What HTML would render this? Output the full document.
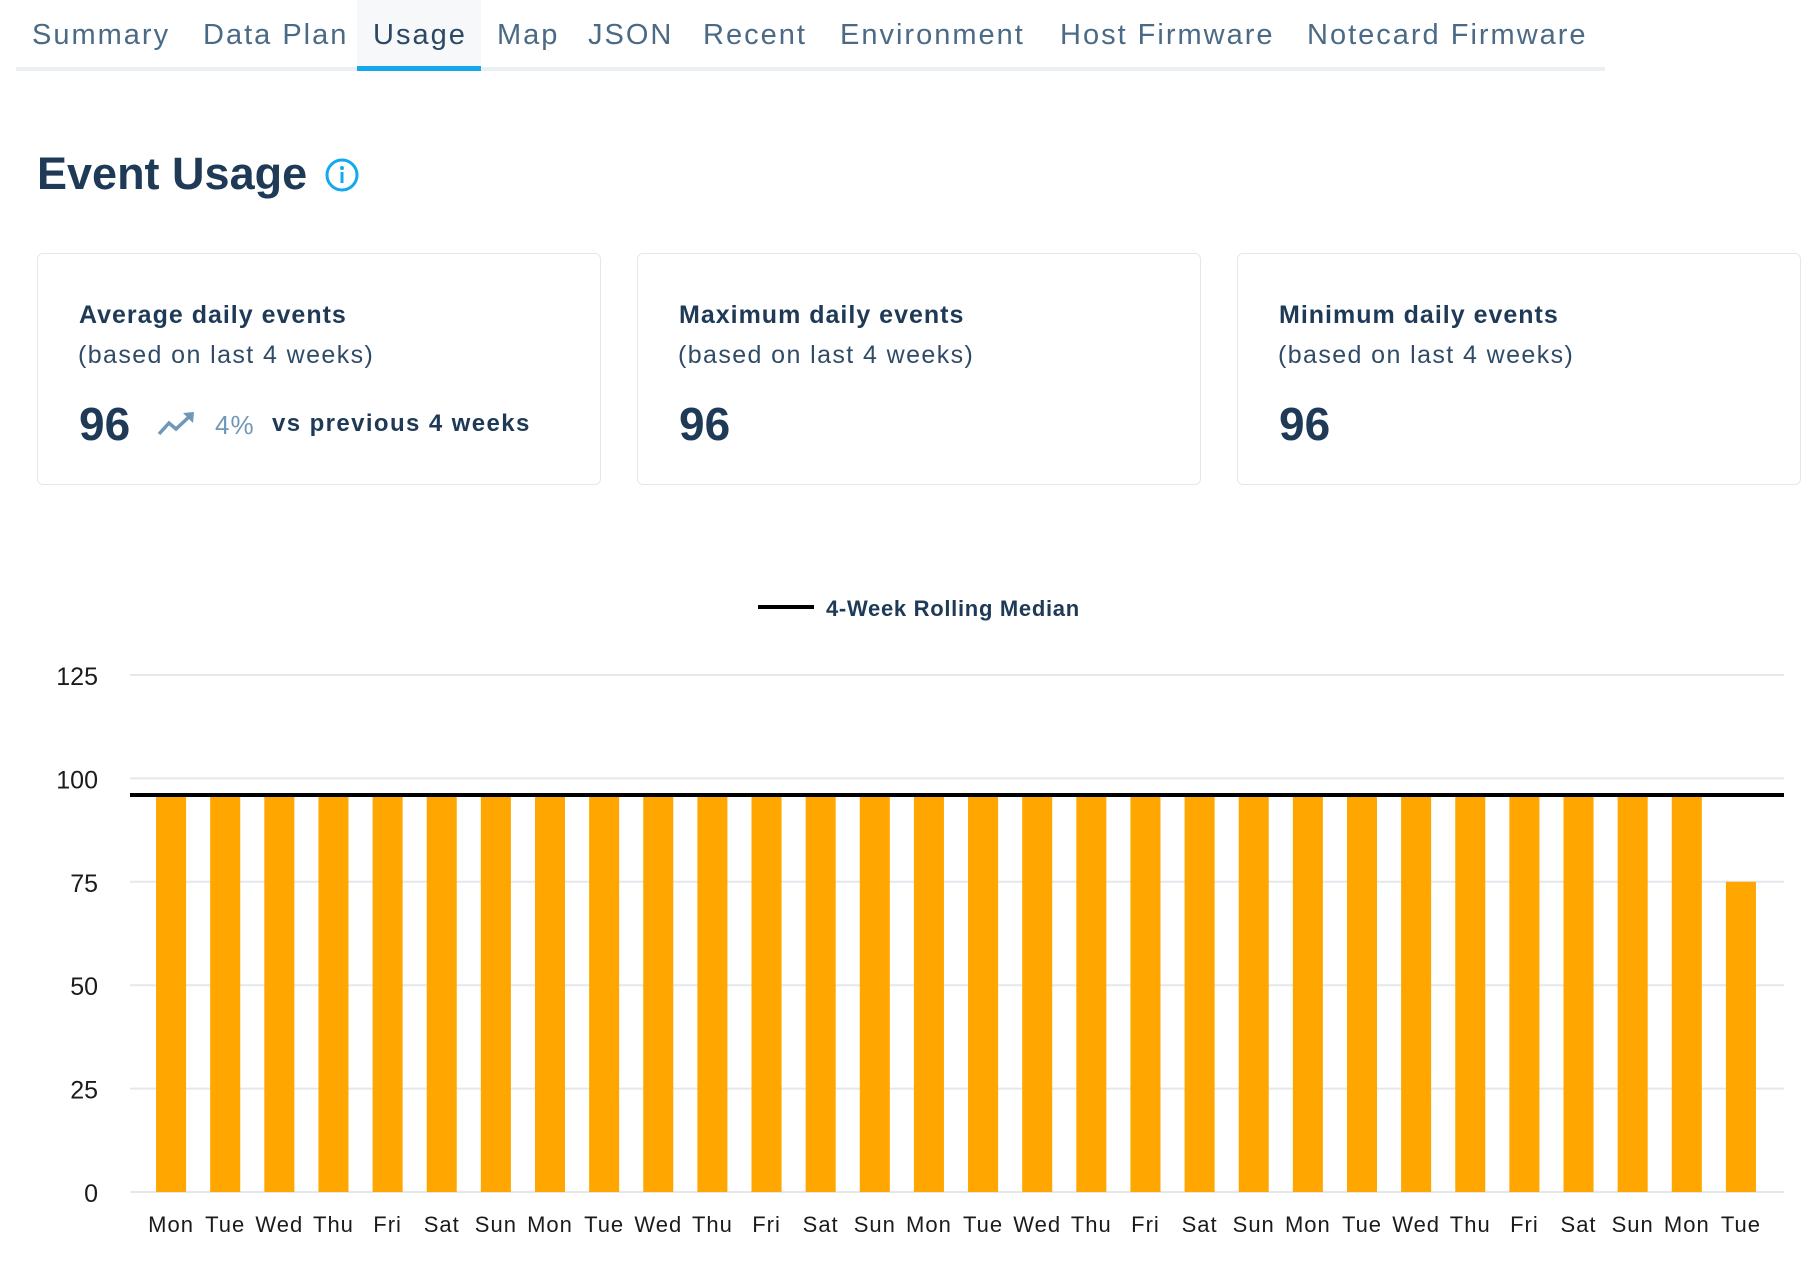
<!DOCTYPE html>
<html><head><meta charset="utf-8">
<style>
body{margin:0;width:1814px;height:1270px;background:#fff;font-family:"Liberation Sans",sans-serif;position:relative;overflow:hidden}
.tab{position:absolute;top:19px;font-size:29px;color:#4b6a85;white-space:nowrap;letter-spacing:2px}
.card{position:absolute;top:253px;width:564px;height:232px;border:1px solid #e3e8ed;border-radius:6px;box-sizing:border-box}
.ct{position:absolute;left:41px;top:47px;font-size:25px;font-weight:bold;color:#1e3a56;letter-spacing:1px;white-space:nowrap}
.cs{position:absolute;left:40px;top:87px;font-size:25px;color:#2f4b66;letter-spacing:1.4px;white-space:nowrap}
.cv{position:absolute;left:41px;top:143px;font-size:46px;font-weight:bold;color:#1e3a56}
</style></head><body>
<div style="position:absolute;left:16px;top:67px;width:1589px;height:4px;background:#eceff2"></div>
<div style="position:absolute;left:357px;top:0;width:124px;height:67px;background:#f7f8f9"></div>
<div style="position:absolute;left:357px;top:66px;width:124px;height:5px;background:#14a8ec"></div>
<div class="tab" style="left:32px">Summary</div>
<div class="tab" style="left:203px">Data Plan</div>
<div class="tab" style="left:373px;color:#2b4864">Usage</div>
<div class="tab" style="left:497px">Map</div>
<div class="tab" style="left:588px">JSON</div>
<div class="tab" style="left:703px">Recent</div>
<div class="tab" style="left:840px">Environment</div>
<div class="tab" style="left:1060px">Host Firmware</div>
<div class="tab" style="left:1307px">Notecard Firmware</div>

<div style="position:absolute;left:37px;top:148px;font-size:45px;font-weight:bold;color:#1e3a56">Event Usage</div>
<svg style="position:absolute;left:324px;top:157px" width="36" height="36"><circle cx="18" cy="18" r="15" fill="none" stroke="#14a8ec" stroke-width="3"/><circle cx="18" cy="11" r="2" fill="#14a8ec"/><rect x="16.5" y="15" width="3" height="11" fill="#14a8ec"/></svg>

<div class="card" style="left:37px">
<div class="ct">Average daily events</div>
<div class="cs">(based on last 4 weeks)</div>
<div class="cv">96</div>
<svg style="position:absolute;left:119px;top:156px" width="40" height="28"><polyline points="2,24 12,13 19,19 34,5" fill="none" stroke="#6f98b8" stroke-width="3.5"/><polygon points="26,3 37,2 36,13" fill="#6f98b8"/></svg>
<div style="position:absolute;left:177px;top:156px;font-size:26px;color:#6f98b8;letter-spacing:1px">4%</div>
<div style="position:absolute;left:234px;top:156px;font-size:24px;font-weight:bold;color:#1e3a56;letter-spacing:1.4px;white-space:nowrap">vs previous 4 weeks</div>
</div>
<div class="card" style="left:637px">
<div class="ct">Maximum daily events</div>
<div class="cs">(based on last 4 weeks)</div>
<div class="cv">96</div>
</div>
<div class="card" style="left:1237px">
<div class="ct">Minimum daily events</div>
<div class="cs">(based on last 4 weeks)</div>
<div class="cv">96</div>
</div>

<svg id="chart" style="position:absolute;left:0;top:0" width="1814" height="1270"></svg>
<script>
const categories=["Mon","Tue","Wed","Thu","Fri","Sat","Sun","Mon","Tue","Wed","Thu","Fri","Sat","Sun","Mon","Tue","Wed","Thu","Fri","Sat","Sun","Mon","Tue","Wed","Thu","Fri","Sat","Sun","Mon","Tue"];
const events=[96,96,96,96,96,96,96,96,96,96,96,96,96,96,96,96,96,96,96,96,96,96,96,96,96,96,96,96,96,75];
const median=[96,96,96,96,96,96,96,96,96,96,96,96,96,96,96,96,96,96,96,96,96,96,96,96,96,96,96,96,96,96];
const yTicks=[0,25,50,75,100,125];
const NS="http://www.w3.org/2000/svg";
const svg=document.getElementById('chart');
const gx0=130,gx1=1784,px0=144,px1=1768,y0=1192,y1=675,ymax=125;
const n=categories.length;
const band=(px1-px0)/n;
const y=v=>y0-(v/ymax)*(y0-y1);
const x=i=>px0+band*(i+0.5);
function mk(t,a){const e=document.createElementNS(NS,t);for(const k in a)e.setAttribute(k,a[k]);svg.appendChild(e);return e;}
yTicks.forEach(t=>{
 const l=mk('line',{x1:gx0,x2:gx1,y1:y(t),y2:y(t),stroke:'#e3e8ed','stroke-width':2});
 
 
 const tx=mk('text',{x:98,y:y(t)+10,'text-anchor':'end','font-size':25,fill:'#1b1b1b','font-family':'Liberation Sans, sans-serif'});
 tx.textContent=t;
 
 
});
const bw=band*0.555;
events.forEach((v,i)=>{
 const r=mk('rect',{x:x(i)-bw/2,y:y(v),width:bw,height:y0-y(v),fill:'#ffa600'});
 
 
 const tx=mk('text',{x:x(i),y:1232,'text-anchor':'middle','font-size':22,fill:'#1b1b1b','letter-spacing':'1','font-family':'Liberation Sans, sans-serif'});
 tx.textContent=categories[i];
 
 
});
let d='';
median.forEach((v,i)=>{d+=(i?'L':'M')+(i==0?gx0:(i==n-1?gx1:x(i)))+','+y(v);});
const p=mk('path',{d:d,fill:'none',stroke:'#000','stroke-width':4});


const ll=mk('line',{x1:758,x2:814,y1:607,y2:607,stroke:'#000','stroke-width':4});


const lt=mk('text',{x:826,y:616,'font-size':22,'font-weight':'bold',fill:'#1e3a56','letter-spacing':'0.7','font-family':'Liberation Sans, sans-serif'});
lt.textContent='4-Week Rolling Median';


</script>
</body></html>
